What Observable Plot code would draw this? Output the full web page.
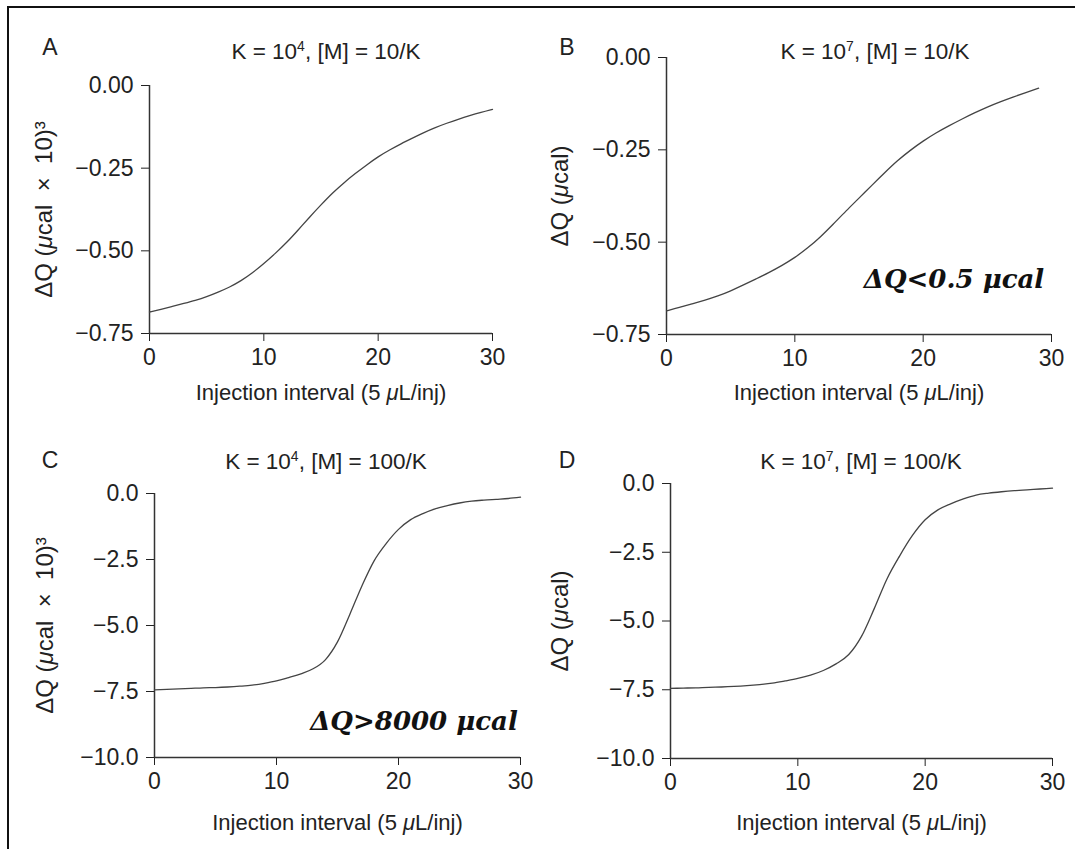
<!DOCTYPE html>
<html><head><meta charset="utf-8">
<script src="https://cdn.jsdelivr.net/npm/d3@7"></script>
<script src="https://cdn.jsdelivr.net/npm/@observablehq/plot@0.6"></script>
<style>
html,body{margin:0;padding:0;background:#fff;}
#page{position:relative;width:1075px;height:849px;overflow:hidden;font-family:"Liberation Sans",Arial,sans-serif;color:#222;}
.panel{position:absolute;}
.lbl{position:absolute;white-space:nowrap;line-height:1;transform:translateX(-50%);}
.title{font-size:22.5px;}
.title sup{font-size:0.62em;vertical-align:0.55em;line-height:0;}
.letter{font-size:23px;}
.note{font-family:"DejaVu Serif",serif;font-weight:bold;font-style:italic;font-size:26px;color:#111;}
#border{position:absolute;left:7px;top:6px;width:1200px;height:1000px;border-left:2px solid #111;border-top:2px solid #111;}
</style></head>
<body><div id="page"><div id="border"></div></div>
<script>
// ---- data ----
const injectionA = [0,1,2,3,4,5,6,7,8,9,10,11,12,13,14,15,16,17,18,19,20,21,22,23,24,25,26,27,28,29,30];
const injectionB = [0,1,2,3,4,5,6,7,8,9,10,11,12,13,14,15,16,17,18,19,20,21,22,23,24,25,26,27,28,29];
const injectionCD = [0,1,2,3,4,5,6,7,8,9,10,11,12,13,14,15,16,17,18,19,20,21,22,23,24,25,26,27,28,29,30];
const dqA = [-0.685,-0.677,-0.668,-0.659,-0.650,-0.639,-0.625,-0.610,-0.591,-0.567,-0.539,-0.508,-0.475,-0.437,-0.398,-0.361,-0.325,-0.294,-0.266,-0.240,-0.215,-0.195,-0.176,-0.159,-0.142,-0.127,-0.114,-0.102,-0.091,-0.081,-0.072];
const dqB = [-0.686,-0.677,-0.667,-0.657,-0.646,-0.632,-0.616,-0.599,-0.582,-0.563,-0.542,-0.516,-0.486,-0.451,-0.415,-0.381,-0.346,-0.312,-0.279,-0.251,-0.226,-0.204,-0.185,-0.167,-0.150,-0.134,-0.120,-0.107,-0.095,-0.083];
const dqC = [-7.44,-7.42,-7.40,-7.38,-7.36,-7.35,-7.33,-7.30,-7.26,-7.19,-7.10,-6.97,-6.83,-6.64,-6.30,-5.62,-4.59,-3.50,-2.55,-1.89,-1.36,-0.99,-0.76,-0.58,-0.46,-0.36,-0.29,-0.25,-0.22,-0.19,-0.14];
const dqD = [-7.45,-7.44,-7.43,-7.41,-7.40,-7.38,-7.35,-7.31,-7.26,-7.18,-7.09,-6.97,-6.80,-6.56,-6.22,-5.56,-4.55,-3.47,-2.63,-1.89,-1.32,-0.96,-0.74,-0.56,-0.42,-0.35,-0.30,-0.26,-0.23,-0.20,-0.17];
const xTicks = [0,10,20,30];
const yTicksSmall = [0,-0.25,-0.5,-0.75];
const yTicksLarge = [0,-2.5,-5,-7.5,-10];
const panelLetters = ["A","B","C","D"];
const titleK = ["4","7","4","7"];
const titleM = ["10/K","10/K","100/K","100/K"];
const xLabel = "Injection interval (5 μL/inj)";
const yLabels = ["ΔQ (μcal\u00A0\u00A0×\u00A0\u00A010)³","ΔQ (μcal)","ΔQ (μcal\u00A0\u00A0×\u00A0\u00A010)³","ΔQ (μcal)"];
const notes = [null,"ΔQ<0.5 μcal","ΔQ>8000 μcal",null];

// ---- layout ----
const layout = [
  {left:0,   top:0,   width:537, height:425, mL:149, mT:85, mR:45, mB:92, xOff:66, yOff:115, tx:326, ty:52, lx:50, ly:47},
  {left:537, top:0,   width:538, height:425, mL:129, mT:57, mR:24, mB:91, xOff:65, yOff:116, tx:875, ty:52, lx:567, ly:47},
  {left:0,   top:425, width:537, height:424, mL:154, mT:68, mR:17, mB:92, xOff:72, yOff:119, tx:326, ty:462, lx:50, ly:460},
  {left:537, top:425, width:538, height:424, mL:133, mT:58, mR:23, mB:91, xOff:71, yOff:120, tx:861, ty:462, lx:567, ly:460}
];
const series = [
  {x:injectionA,  y:dqA, ticks:yTicksSmall, fmt:".2f", curve:"basis"},
  {x:injectionB,  y:dqB, ticks:yTicksSmall, fmt:".2f", curve:"basis"},
  {x:injectionCD, y:dqC, ticks:yTicksLarge, fmt:".1f", curve:"monotone-x"},
  {x:injectionCD, y:dqD, ticks:yTicksLarge, fmt:".1f", curve:"monotone-x"}
];
const notePos = [null, {cx:954, base:288}, {cx:414, base:730}, null];

const page = document.getElementById("page");
const NS = "http://www.w3.org/2000/svg";

function italicMu(svg){
  svg.querySelectorAll("text, tspan").forEach(t => {
    if ([...t.childNodes].every(n => n.nodeType === 3) && t.textContent.includes("μ")) {
      const parts = t.textContent.split("μ");
      t.textContent = "";
      parts.forEach((p,i) => {
        if (i > 0) { const ts = document.createElementNS(NS,"tspan"); ts.setAttribute("font-style","italic"); ts.textContent = "μ"; t.appendChild(ts); }
        if (p) t.appendChild(document.createTextNode(p));
      });
    }
  });
}

layout.forEach((L, i) => {
  const s = series[i];
  const rows = s.x.map((x, k) => ({x, y: s.y[k]}));
  const yMin = d3.min(s.ticks);
  const chart = Plot.plot({
    width: L.width, height: L.height,
    marginLeft: L.mL, marginTop: L.mT, marginRight: L.mR, marginBottom: L.mB,
    style: {fontFamily: '"Liberation Sans", Arial, sans-serif', fontSize: "23px", color: "#222", background: "transparent", overflow: "visible"},
    x: {domain: [0, 30], ticks: xTicks, tickSize: 8, tickPadding: 7, label: xLabel, labelAnchor: "center", labelOffset: L.xOff, labelArrow: "none"},
    y: {domain: [yMin, 0], ticks: s.ticks, tickFormat: d3.format(s.fmt), tickSize: 8, tickPadding: 8, label: yLabels[i], labelAnchor: "center", labelOffset: L.yOff, labelArrow: "none"},
    marks: [
      Plot.ruleX([0], {stroke: "#333", strokeWidth: 1.5}),
      Plot.ruleY([yMin], {stroke: "#333", strokeWidth: 1.5}),
      Plot.line(rows, {x: "x", y: "y", stroke: "#444", strokeWidth: 1.3, curve: s.curve})
    ]
  });
  chart.querySelectorAll('g[aria-label="x-axis label"]').forEach(g => g.setAttribute("font-size", "22"));
  chart.querySelectorAll('g[aria-label="y-axis label"]').forEach(g => g.setAttribute("font-size", "24"));
  italicMu(chart);
  chart.classList.add("panel");
  chart.style.left = L.left + "px";
  chart.style.top = L.top + "px";
  page.appendChild(chart);

  const letter = document.createElement("div");
  letter.className = "lbl letter";
  letter.textContent = panelLetters[i];
  letter.style.left = L.lx + "px";
  letter.style.top = (L.ly - 0.49 * 23) + "px";
  page.appendChild(letter);

  const title = document.createElement("div");
  title.className = "lbl title";
  title.innerHTML = `K = 10<sup>${titleK[i]}</sup>, [M] = ${titleM[i]}`;
  title.style.left = L.tx + "px";
  title.style.top = (L.ty - 0.49 * 22.5) + "px";
  page.appendChild(title);

  if (notes[i]) {
    const n = document.createElement("div");
    n.className = "lbl note";
    n.textContent = notes[i];
    n.style.left = notePos[i].cx + "px";
    n.style.top = (notePos[i].base - 0.846 * 26) + "px";
    page.appendChild(n);
  }
});
</script></body></html>
